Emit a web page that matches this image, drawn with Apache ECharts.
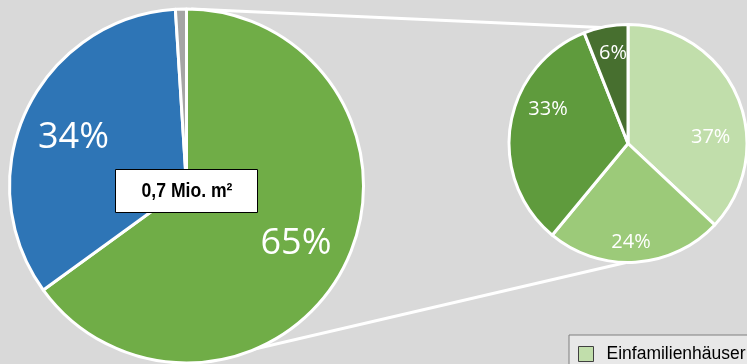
<!DOCTYPE html>
<html><head><meta charset="utf-8">
<script src="https://cdn.jsdelivr.net/npm/echarts@6/dist/echarts.min.js"></script>
<style>html,body{margin:0;padding:0;background:#D9D9D9}#c{width:747px;height:364px}</style>
</head><body><div id="c"></div>
<script>
// ---- data ----
const mainCategories = ['Wohngebäude', 'Nichtwohngebäude', 'Sonstige'];
const mainValues = [65, 34, 1];
const subCategories = ['Einfamilienhäuser', 'Zweifamilienhäuser', 'Mehrfamilienhäuser', 'Wohnheime'];
const subValues = [37, 24, 33, 6];
const legendLabels = ['Einfamilienhäuser'];
const totalLabel = '0,7 Mio. m²';

// ---- styles / layout ----
const mainColors = ['#70AD47', '#2E75B6', '#A5A5A5'];
const subColors = ['#C1DEAB', '#9CCA79', '#5F9B3D', '#476F2F'];
const BIG = {cx: 186.5, cy: 186, r: 177};
const SMALL = {cx: 628, cy: 143.5, r: 119};
const bigLabelOffsets = [[109.5, 57.5], [-113, -48.5], null];
const smallLabelOffsets = [[82.7, -6.5], [3, 98.5], [-80, -34], [-15, -90.5]];
const connectorAngles = [[1.5, 347], [177, 181]]; // [big pie angle, small pie angle], degrees clockwise from top

function polar(C, ang, rr) {
  const a = ang * Math.PI / 180;
  return [C.cx + rr * Math.sin(a), C.cy - rr * Math.cos(a)];
}

const chart = echarts.init(document.getElementById('c'), null, {renderer: 'canvas'});

function pieSeries(names, values, colors, C, offsets, fontSize) {
  return {
    type: 'pie',
    center: [C.cx, C.cy],
    radius: C.r,
    startAngle: 90,
    clockwise: true,
    silent: true,
    emphasis: {disabled: true},
    itemStyle: {borderColor: '#FFFFFF', borderWidth: 3},
    label: {
      show: true, position: 'inside', color: '#FFFFFF',
      fontFamily: 'Open Sans', fontSize: fontSize,
      formatter: p => p.value + '%'
    },
    labelLine: {show: false},
    labelLayout: function (p) {
      const o = offsets[p.dataIndex];
      if (!o) return {};
      return {x: C.cx + o[0], y: C.cy + o[1], align: 'center', verticalAlign: 'middle'};
    },
    data: names.map((n, i) => ({
      name: n, value: values[i],
      itemStyle: {color: colors[i]},
      label: {show: offsets[i] !== null}
    }))
  };
}

const lines = connectorAngles.map(([a1, a2]) => {
  const p1 = polar(BIG, a1, BIG.r), p2 = polar(SMALL, a2, SMALL.r);
  return {
    type: 'line', z: -1, silent: true,
    shape: {x1: p1[0], y1: p1[1], x2: p2[0], y2: p2[1]},
    style: {stroke: '#FFFFFF', lineWidth: 3}
  };
});

chart.setOption({
  backgroundColor: '#D9D9D9',
  animation: false,
  legend: {
    data: legendLabels,
    left: 569, top: 335,
    backgroundColor: '#E8E8E8',
    borderColor: '#7F7F7F', borderWidth: 1, borderRadius: 0,
    padding: [10, 60, 10, 9],
    icon: 'rect', itemWidth: 15, itemHeight: 15,
    itemStyle: {borderColor: '#404040', borderWidth: 1},
    selectedMode: false,
    textStyle: {fontFamily: 'Liberation Sans', fontSize: 17.5, color: '#000000', padding: [2, 0, 0, 8]}
  },
  graphic: lines.concat([
    {type: 'rect', z: 100, silent: true, shape: {x: 115.5, y: 169.5, width: 142, height: 43},
     style: {fill: '#FFFFFF', stroke: '#000000', lineWidth: 1}},
    {type: 'text', z: 101, silent: true, x: 187, y: 191, scaleX: 0.88,
     style: {text: totalLabel, fontFamily: 'Liberation Sans', fontWeight: 'bold',
             fontSize: 20, fill: '#000000', align: 'center', verticalAlign: 'middle'}}
  ]),
  series: [
    pieSeries(mainCategories, mainValues, mainColors, BIG, bigLabelOffsets, 36),
    pieSeries(subCategories, subValues, subColors, SMALL, smallLabelOffsets, 20)
  ]
});
</script>
</body></html>
